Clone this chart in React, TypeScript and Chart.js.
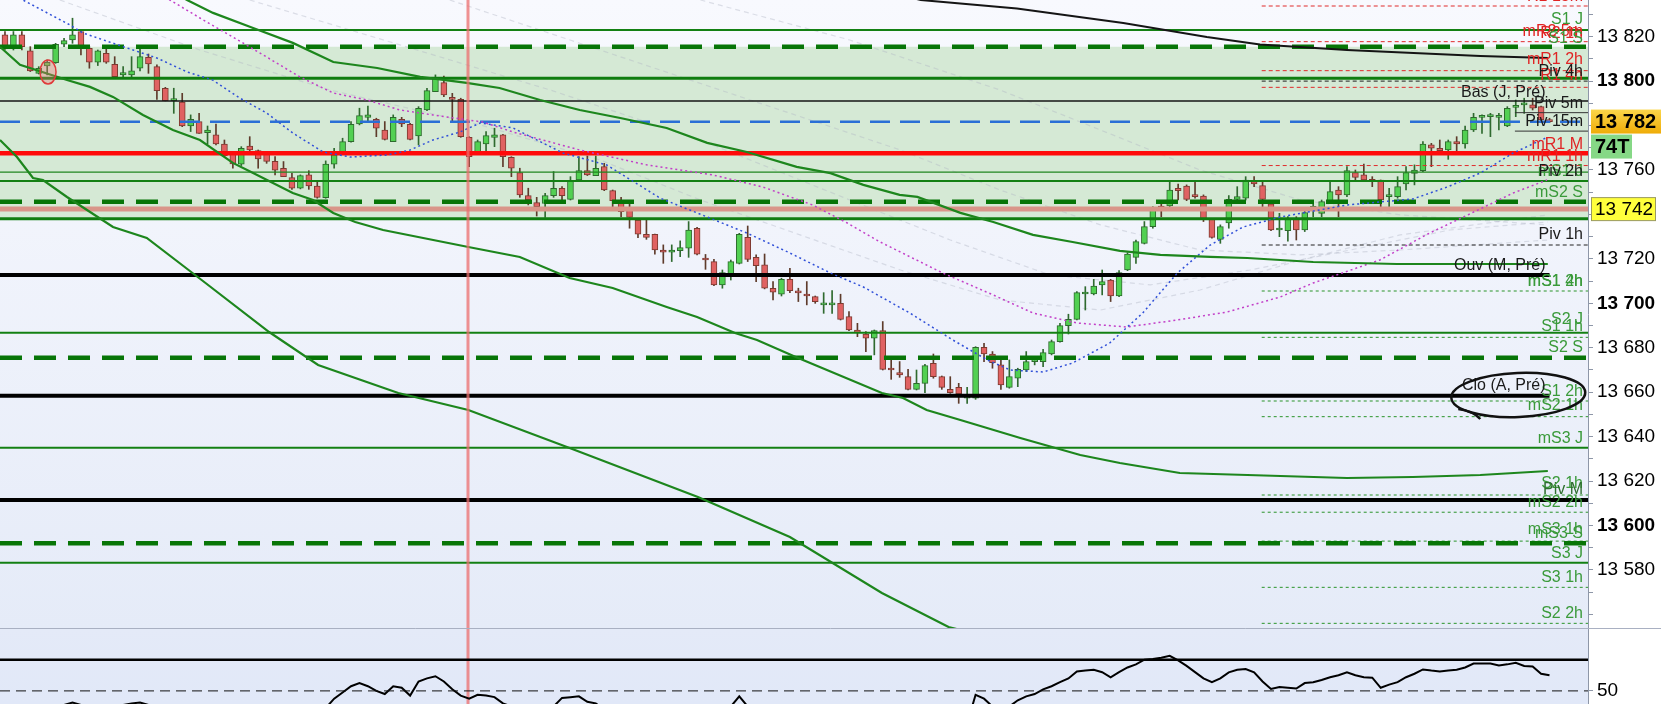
import React, { useEffect, useRef } from 'react';
import Chart from 'chart.js/auto';

const FONT = "'Liberation Sans', Arial, sans-serif";

// visible windows (price panel / oscillator panel / bar index)
const PRICE_MIN = 13553.9;
const PRICE_MAX = 13836.5;
const OSC_MIN = 41.6;
const OSC_MAX = 90.3;
const X_MIN = -0.59;
const X_MAX = 187.56;
const PIVOT_START = 148.9; // bar where the short pivot lines begin
const SHORT_START = 178.9;
const MARKER_BAR = 54.86; // red vertical marker

const priceTicks = [13560, 13570, 13580, 13590, 13600, 13610, 13620, 13630, 13640, 13650, 13660, 13670, 13680, 13690,
  13700, 13710, 13720, 13730, 13740, 13750, 13760, 13770, 13780, 13790, 13800, 13810, 13820, 13830];
const labeledTicks = [13580, 13600, 13620, 13640, 13660, 13680, 13700, 13720, 13760, 13800, 13820];
const boldTicks = [13600, 13700, 13800];
const oscTicks = [50];

// candles
const opens = [
  13820.8, 13814.8, 13820.8, 13813.6, 13803.5, 13806.8, 13808.3, 13816.6, 13818.5, 13822.3,
  13814.8, 13808.5, 13812.5, 13807.6, 13802.8, 13802.8, 13805.8, 13810.7, 13806.5, 13796.8,
  13791.2, 13790.6, 13779.8, 13781.8, 13776.8, 13775.8, 13771.7, 13767.1, 13762.6, 13770.8,
  13768.7, 13767.5, 13763.9, 13760.8, 13756.6, 13751.8, 13757.8, 13752.8, 13747.6, 13762.6,
  13767.5, 13772.8, 13780.7, 13783.7, 13782.8, 13778.0, 13772.8, 13782.8, 13780.6, 13775.3,
  13787.0, 13795.3, 13799.3, 13792.7, 13791.8, 13774.7, 13768.3, 13771.7, 13774.7, 13775.8,
  13765.7, 13758.8, 13748.5, 13745.3, 13745.0, 13748.5, 13751.8, 13746.8, 13755.5, 13759.7,
  13757.5, 13761.5, 13750.7, 13745.8, 13742.0, 13737.5, 13731.1, 13731.1, 13724.0, 13723.0,
  13723.7, 13724.8, 13733.8, 13719.8, 13718.8, 13708.3, 13713.2, 13718.0, 13729.7, 13720.7,
  13717.3, 13706.8, 13704.1, 13710.8, 13705.0, 13704.2, 13703.0, 13699.3, 13699.3, 13700.0,
  13694.0, 13688.0, 13686.2, 13684.3, 13687.7, 13670.3, 13668.8, 13667.0, 13661.3, 13664.0,
  13673.0, 13667.0, 13661.3, 13662.2, 13657.3, 13657.3, 13680.2, 13677.2, 13672.3, 13662.2,
  13666.3, 13670.0, 13673.8, 13673.8, 13677.2, 13682.8, 13690.0, 13692.8, 13704.2, 13704.2,
  13708.3, 13710.5, 13703.3, 13715.0, 13720.7, 13727.0, 13734.5, 13743.8, 13743.8, 13751.8,
  13752.8, 13748.8, 13748.3, 13738.0, 13728.8, 13736.2, 13746.8, 13747.3, 13754.8, 13753.0,
  13744.8, 13733.0, 13732.7, 13738.3, 13733.0, 13742.8, 13740.5, 13745.8, 13751.0, 13748.8,
  13758.8, 13757.8, 13755.8, 13755.5, 13748.0, 13748.0, 13753.7, 13758.5, 13759.7, 13771.3,
  13769.8, 13769.0, 13772.8, 13771.7, 13778.0, 13783.7, 13784.0, 13783.7, 13779.8, 13788.2,
  13789.3, 13789.3, 13788.5, 13782.5,
];
const highs = [
  13822.3, 13822.3, 13822.3, 13815.5, 13806.5, 13809.5, 13817.0, 13819.3, 13828.3, 13823.0,
  13815.5, 13814.0, 13814.3, 13811.0, 13806.5, 13811.0, 13814.3, 13812.2, 13807.3, 13797.2,
  13796.8, 13794.5, 13784.8, 13785.5, 13779.8, 13780.7, 13773.5, 13768.3, 13770.5, 13775.0,
  13769.0, 13767.8, 13766.0, 13763.8, 13758.5, 13757.8, 13759.7, 13754.8, 13764.1, 13769.8,
  13774.3, 13781.8, 13787.8, 13788.8, 13783.3, 13781.8, 13784.8, 13783.7, 13781.0, 13788.5,
  13796.8, 13802.8, 13802.3, 13794.5, 13792.3, 13775.0, 13773.5, 13777.3, 13778.8, 13776.0,
  13766.0, 13760.8, 13751.8, 13747.7, 13749.5, 13759.3, 13752.5, 13757.0, 13766.0, 13766.3,
  13766.3, 13763.0, 13751.0, 13747.7, 13744.7, 13738.3, 13737.5, 13731.2, 13726.3, 13726.3,
  13728.1, 13736.8, 13734.2, 13722.0, 13719.8, 13715.0, 13719.5, 13731.5, 13734.8, 13721.8,
  13722.2, 13709.8, 13711.3, 13715.8, 13706.8, 13709.8, 13703.3, 13704.8, 13705.7, 13704.1,
  13696.3, 13691.0, 13687.3, 13688.0, 13691.8, 13675.3, 13673.8, 13670.3, 13670.0, 13672.6,
  13677.2, 13667.3, 13667.0, 13664.0, 13662.2, 13680.5, 13682.0, 13678.3, 13676.0, 13674.5,
  13670.8, 13678.3, 13676.0, 13679.3, 13683.5, 13691.0, 13695.1, 13705.3, 13707.5, 13710.8,
  13715.0, 13710.8, 13714.7, 13722.8, 13728.5, 13736.8, 13743.5, 13745.0, 13754.8, 13753.7,
  13753.3, 13754.8, 13748.8, 13738.3, 13735.3, 13748.5, 13752.5, 13757.0, 13757.0, 13754.8,
  13745.8, 13740.5, 13739.0, 13739.0, 13742.8, 13745.8, 13746.5, 13754.8, 13752.5, 13761.5,
  13760.0, 13762.7, 13757.0, 13755.5, 13751.8, 13757.0, 13761.5, 13762.3, 13772.8, 13772.0,
  13773.5, 13773.5, 13775.0, 13779.8, 13785.5, 13784.8, 13785.5, 13785.5, 13788.5, 13791.5,
  13792.3, 13792.3, 13788.8, 13783.3,
];
const lows = [
  13814.3, 13814.0, 13814.0, 13804.3, 13803.2, 13802.8, 13808.0, 13815.5, 13817.0, 13811.8,
  13805.8, 13807.0, 13808.0, 13801.3, 13801.3, 13801.3, 13804.6, 13803.5, 13791.8, 13791.1,
  13785.5, 13779.5, 13777.3, 13776.5, 13771.7, 13771.3, 13766.0, 13760.8, 13762.0, 13768.7,
  13760.8, 13763.0, 13757.8, 13757.0, 13751.3, 13751.5, 13751.3, 13747.3, 13747.3, 13760.8,
  13767.2, 13772.5, 13780.3, 13781.8, 13775.0, 13773.5, 13772.8, 13779.5, 13773.5, 13771.3,
  13786.7, 13795.3, 13793.0, 13781.8, 13774.7, 13761.5, 13768.0, 13768.6, 13770.5, 13761.5,
  13757.0, 13747.7, 13744.3, 13739.3, 13738.7, 13747.7, 13746.5, 13746.5, 13755.2, 13757.5,
  13757.5, 13750.7, 13742.0, 13739.0, 13733.8, 13729.6, 13728.8, 13722.1, 13718.0, 13718.8,
  13721.0, 13720.7, 13721.8, 13715.3, 13708.0, 13706.8, 13710.5, 13717.7, 13718.8, 13709.8,
  13706.5, 13701.5, 13703.3, 13704.8, 13700.8, 13699.3, 13700.0, 13695.5, 13695.5, 13692.5,
  13687.7, 13685.0, 13678.3, 13676.8, 13670.0, 13665.8, 13666.7, 13661.0, 13661.0, 13659.8,
  13666.3, 13661.3, 13659.5, 13655.0, 13655.0, 13656.8, 13673.8, 13670.8, 13661.3, 13661.8,
  13662.5, 13669.3, 13672.3, 13671.5, 13676.8, 13682.5, 13686.2, 13692.5, 13697.0, 13703.8,
  13703.8, 13700.8, 13703.0, 13714.7, 13718.0, 13726.7, 13733.8, 13739.0, 13741.7, 13746.5,
  13746.2, 13747.3, 13736.8, 13729.3, 13727.0, 13733.8, 13745.8, 13746.5, 13752.5, 13743.5,
  13732.7, 13730.0, 13728.0, 13728.5, 13732.3, 13739.0, 13739.0, 13745.0, 13739.0, 13748.0,
  13755.5, 13754.8, 13752.5, 13742.0, 13741.7, 13747.3, 13751.0, 13753.3, 13759.3, 13761.5,
  13768.3, 13764.8, 13768.3, 13769.8, 13777.3, 13776.5, 13775.0, 13778.0, 13779.5, 13784.0,
  13785.5, 13787.0, 13781.8, 13781.3,
];
const closes = [
  13814.8, 13820.8, 13815.5, 13804.6, 13805.8, 13808.5, 13816.6, 13818.2, 13820.8, 13814.8,
  13808.5, 13813.6, 13808.5, 13802.0, 13803.8, 13804.6, 13811.0, 13807.7, 13795.7, 13791.2,
  13792.1, 13779.8, 13782.8, 13776.5, 13778.0, 13771.7, 13766.3, 13762.7, 13769.8, 13769.0,
  13765.0, 13763.9, 13759.9, 13757.0, 13751.8, 13757.5, 13752.8, 13747.7, 13762.7, 13766.8,
  13772.8, 13780.6, 13784.5, 13784.8, 13778.8, 13773.8, 13783.7, 13780.7, 13773.8, 13787.8,
  13795.7, 13801.7, 13793.8, 13791.8, 13775.0, 13766.0, 13772.8, 13775.5, 13775.8, 13766.0,
  13760.8, 13748.8, 13746.5, 13743.5, 13748.5, 13751.8, 13748.5, 13755.2, 13759.7, 13757.8,
  13760.8, 13751.0, 13746.2, 13741.3, 13738.7, 13731.1, 13729.7, 13724.0, 13723.0, 13724.0,
  13725.1, 13733.0, 13722.1, 13719.5, 13708.3, 13713.8, 13718.8, 13731.1, 13719.8, 13717.0,
  13706.8, 13705.0, 13710.8, 13705.7, 13704.7, 13703.3, 13700.8, 13700.0, 13700.0, 13692.8,
  13688.0, 13686.8, 13684.3, 13687.7, 13670.3, 13670.0, 13667.8, 13661.3, 13664.0, 13672.0,
  13667.0, 13662.2, 13659.8, 13659.2, 13658.0, 13680.2, 13677.2, 13673.3, 13663.3, 13667.0,
  13670.3, 13673.8, 13674.5, 13677.8, 13682.8, 13690.0, 13692.8, 13704.8, 13705.0, 13707.8,
  13709.8, 13703.3, 13713.8, 13722.2, 13727.8, 13734.5, 13742.8, 13742.8, 13751.0, 13750.7,
  13746.8, 13748.0, 13738.0, 13729.7, 13734.5, 13746.8, 13748.0, 13755.5, 13753.7, 13746.8,
  13733.0, 13733.8, 13738.3, 13733.0, 13740.8, 13743.5, 13745.8, 13750.3, 13748.8, 13759.7,
  13756.7, 13755.5, 13754.8, 13746.5, 13748.3, 13752.5, 13758.8, 13760.0, 13771.7, 13769.8,
  13768.7, 13772.8, 13771.7, 13778.0, 13783.7, 13784.0, 13784.3, 13784.0, 13787.8, 13788.5,
  13789.6, 13787.8, 13782.5, 13781.8,
];

// lower panel oscillator, one value per bar
const oscillator = [
  35, 36, 37, 36, 38, 39, 40, 41, 42.5, 41,
  39, 38, 39, 40, 41, 42, 42.5, 41, 38, 36,
  35, 33, 34, 33, 34, 33, 32, 31, 33, 33,
  32, 32, 31, 31, 30, 32, 31, 30, 39, 45,
  49, 53, 55, 53, 50, 48, 53, 52, 47, 56,
  58, 59.4, 56, 51, 47, 45, 47.5, 47, 46, 42,
  40, 37, 36, 35, 37, 40, 45.5, 46, 46.5, 43,
  42, 38, 35, 33, 31, 29, 29, 27, 28, 29,
  30, 36, 34, 34, 32, 36, 40, 46.5, 40, 38,
  35, 34, 37, 35, 34, 34, 33, 34, 34, 31,
  29, 29, 29, 31, 28, 28, 28, 27, 29, 32,
  30, 28, 28, 27, 29, 47.5, 45, 40, 37, 40,
  44, 46.5, 48, 51, 53, 55.6, 58, 62.5, 63, 63.5,
  62, 58.75, 62, 65, 67, 70, 70.5, 71.25, 72.5, 69.5,
  66, 62, 58, 55.6, 58, 61.9, 63.5, 64, 61.9, 56,
  51.25, 52.5, 52, 51.5, 55, 55.5, 57, 58.75, 60, 61.9,
  60, 58.75, 58.5, 52, 54, 55.6, 58.75, 61, 63.75, 63,
  62.5, 63, 63.5, 65, 67.5, 67.5, 67.5, 66.25, 67, 68,
  66, 65.6, 61, 60,
];
const oscUpper = 70;
const oscMid = 50;

// moving averages etc. as [bar, price]
const blackAverage = [[103.7, 13841], [108.5, 13836.5], [119.9, 13832.7], [132.5, 13826.2], [142.4, 13819.9],
  [148.7, 13816.5], [159.0, 13814], [174.8, 13811.3], [182.8, 13810.4]];
const greenUpper = [[19.55, 13841], [21.57, 13836.5], [24.65, 13830.7], [29.4, 13823.9], [34.1, 13817.2], [38.9, 13808.6],
  [44.1, 13805.9], [49.2, 13801.9], [54.7, 13799.2], [58.6, 13796.9], [63.4, 13791.5], [68.1, 13787], [72.9, 13783.4],
  [78.4, 13778.9], [83.2, 13772.2], [87.9, 13768.1], [93.8, 13761.4], [97.8, 13758.6], [101.7, 13753.3], [106.0, 13748.8],
  [108.1, 13747.9], [113.2, 13740.7], [117.1, 13736.6], [121.8, 13730.8], [126.5, 13727.6], [132.1, 13723.6],
  [136.9, 13721.8], [142.8, 13720.9], [147.2, 13720.4], [155.0, 13718.6], [164.9, 13717.7], [182.8, 13717.7]];
const greenMiddle = [[-0.59, 13815.4], [1.78, 13807.3], [7.35, 13800.5], [10.07, 13797.4], [12.8, 13792.9], [16.35, 13784.75],
  [19.9, 13778], [23.1, 13773.5], [27.0, 13763.2], [29.4, 13758.65], [34.1, 13749.65], [36.5, 13746.5], [38.9, 13740.65],
  [41.5, 13736.6], [44.8, 13733], [54.9, 13725.35], [61.0, 13720.85], [66.9, 13711.4], [72.0, 13706.9], [78.4, 13698.35],
  [82.0, 13693.85], [86.5, 13686.65], [89.1, 13683.5], [93.7, 13675.85], [103.9, 13659.65], [106.4, 13657.4],
  [109.2, 13652], [113.2, 13647.5], [120.3, 13639.4], [127.4, 13631.75], [132.1, 13628.15], [139.2, 13623.65],
  [147.2, 13622.75], [159.0, 13621.4], [166.8, 13621.85], [174.8, 13622.75], [182.8, 13624.55]];
const greenLower = [[-0.59, 13773.5], [1.42, 13765.85], [3.32, 13756.4], [4.5, 13755.5], [7.35, 13747.85], [9.72, 13742],
  [12.8, 13734.35], [16.8, 13729.4], [23.3, 13710.5], [31.3, 13687.1], [37.1, 13672.25], [46.6, 13659.65], [54.9, 13652],
  [66.9, 13634.9], [82.1, 13612.85], [93.0, 13594.85], [103.9, 13569.65], [111.8, 13554.35], [113.2, 13553]];
const blueDotted = [[1.19, 13838.75], [2.13, 13836.5], [7.7, 13825.25], [9.24, 13821.65], [15.17, 13814], [18.0, 13810.4],
  [21.6, 13804.1], [24.6, 13800.5], [27.8, 13792.4], [31.0, 13785.65], [34.1, 13776.65], [37.7, 13768.1], [40.9, 13765.85],
  [45.3, 13766.75], [48.0, 13769], [50.7, 13773.5], [53.9, 13777.1], [56.3, 13781.15], [60.2, 13778.9], [66.1, 13767.65],
  [71.3, 13762.25], [77.6, 13747.4], [83.2, 13738.85], [87.9, 13731.65], [93.0, 13722.65], [97.8, 13713.65],
  [101.7, 13707.35], [107.2, 13695.65], [112.3, 13683.5], [116.4, 13674.5], [119.1, 13670], [123.0, 13669.1],
  [126.5, 13673.15], [130.9, 13682.15], [134.8, 13695.65], [138.9, 13713.65], [142.8, 13726.25], [146.7, 13734.35],
  [151.1, 13738.85], [159.0, 13744.25], [166.8, 13746.95], [170.9, 13752.35], [174.8, 13758.65], [178.7, 13767.65],
  [182.8, 13774.85]];
const magentaDotted = [[18.4, 13838.75], [19.55, 13836.5], [23.1, 13828.4], [27.0, 13819.85], [31.0, 13810.85],
  [34.95, 13801.85], [38.9, 13794.65], [42.9, 13791.5], [46.8, 13787], [50.7, 13784.75], [56.6, 13781.6], [60.2, 13777.1],
  [68.1, 13769], [76.1, 13762.25], [83.9, 13757.75], [89.8, 13752.35], [95.7, 13744.25], [99.8, 13736.15], [103.7, 13727.6],
  [111.1, 13713.65], [117.1, 13703.75], [121.8, 13695.65], [127.0, 13691.15], [132.9, 13689.35], [138.9, 13692.5],
  [144.8, 13696.1], [151.1, 13702.85], [155.0, 13709.15], [162.9, 13719.5], [168.8, 13731.65], [172.8, 13738.85],
  [178.7, 13749.65], [182.7, 13755.5]];
const grayFans = [
  [[6.5, 13836.5], [23.1, 13814], [38.5, 13796], [56.3, 13780.3], [70.5, 13764.5], [82.4, 13746.5], [94.2, 13730.8],
    [106.1, 13715], [117.9, 13701.5], [129.8, 13697], [141.6, 13706], [153.5, 13719.5], [165.3, 13730.8], [182.8, 13739.8]],
  [[29.0, 13836.5], [46.8, 13816.3], [64.6, 13796], [82.4, 13773.5], [100.1, 13746.5], [112.0, 13728.5], [123.8, 13712.8],
    [135.7, 13708.3], [147.5, 13715], [159.4, 13724], [171.2, 13733], [182.8, 13736.6]],
  [[52.7, 13836.5], [70.5, 13814], [88.3, 13791.5], [106.1, 13769], [117.9, 13751], [129.8, 13735.3], [141.6, 13724],
    [153.5, 13721.8], [165.3, 13724], [182.8, 13728.5]],
  [[82.4, 13836.5], [100.1, 13818.5], [117.9, 13796], [129.8, 13778], [141.6, 13760], [153.5, 13746.5], [165.3, 13739.8],
    [182.8, 13735.3]],
];

// horizontal levels: [price, style]
const fullLevels = [[13823.0, 'green'], [13815.5, 'greenDash'], [13801.25, 'greenBold'], [13791.05, 'black'],
  [13781.75, 'blueDash'], [13767.5, 'red'], [13759.0, 'greenThin'], [13755.0, 'green'], [13745.75, 'greenDash'],
  [13742.4, 'salmon'], [13738.1, 'greenBold'], [13686.8, 'green'], [13675.5, 'greenDash'], [13635.0, 'green'],
  [13611.5, 'blackBold'], [13592.0, 'greenDash'], [13583.3, 'green']];
const lastBarLevels = [[13712.75, 'blackBold'], [13658.4, 'blackBold']];
const pivotLevels = [[13833.8, 'pivRed'], [13817.75, 'pivRed'], [13804.7, 'pivRed'], [13800.0, 'pivBlack'],
  [13797.2, 'pivRed'], [13762.0, 'pivRed'], [13726.25, 'pivBlack'], [13705.55, 'pivGreen'], [13684.7, 'pivGreen'],
  [13656.05, 'pivGreen'], [13649.0, 'pivGreen'], [13613.75, 'pivGreen'], [13606.0, 'pivGreen'], [13593.0, 'pivGreen'],
  [13572.2, 'pivGreen'], [13556.0, 'pivGreen']];
const shortLevels = [[13785.8, 'thinBlack'], [13777.5, 'thinBlack']];
const zones = [[13815.5, 13738.1, 'light'], [13801.25, 13791.05, 'dark'], [13755.0, 13738.1, 'dark']];
const tagLevel = 13742.4;

const pivotLabels = [
  ['R1 15m', 13838.0, 'red'], ['S1 J', 13827.5, 'green'], ['mR2 5m', 13822.3, 'red'], ['R2 1h', 13821.4, 'red'],
  ['S1 S', 13819.3, 'green'], ['mR1 2h', 13809.5, 'red'], ['R1 4h', 13802.6, 'red'], ['Piv 4h', 13804.2, 'black'],
  ['Piv 5m', 13790.0, 'black'], ['Piv 15m', 13781.8, 'black'], ['mR1 M', 13771.3, 'red'], ['mR1 1h', 13766.0, 'red'],
  ['mS1 J', 13759.3, 'green'], ['Piv 2h', 13759.3, 'black'], ['mS2 S', 13749.8, 'green'], ['Piv 1h', 13730.8, 'black'],
  ['mS1 2h', 13709.8, 'green'], ['mS1 4h', 13709.8, 'green'], ['S2 J', 13692.5, 'green'], ['S1 1h', 13689.5, 'green'],
  ['S2 S', 13680.2, 'green'], ['S1 2h', 13660.2, 'green'], ['mS2 1h', 13653.8, 'green'], ['mS3 J', 13639.3, 'green'],
  ['S2 1h', 13619.0, 'green'], ['Piv M', 13616.0, 'darkgreen'], ['mS2 2h', 13610.3, 'green'], ['mS3 1h', 13598.0, 'green'],
  ['mS3 S', 13596.5, 'green'], ['S3 J', 13587.2, 'green'], ['S3 1h', 13576.7, 'green'], ['S2 2h', 13560.5, 'green'],
];
const lastBarLabels = [['Bas (J, Pré)', 13794.8], ['Ouv (M, Pré)', 13716.8], ['Clo (A, Pré)', 13662.8]];
const counterText = '74T';

const LINE_STYLES: Record<string, { color: string; width: number; dash: number[] }> = {
  greenThin: { color: '#1f861f', width: 1.2, dash: [] },
  green: { color: '#138013', width: 2, dash: [] },
  greenBold: { color: '#0f7d0f', width: 3, dash: [] },
  greenDash: { color: '#077507', width: 4.5, dash: [22, 12] },
  black: { color: '#151515', width: 1.5, dash: [] },
  blackBold: { color: '#000000', width: 4, dash: [] },
  blueDash: { color: '#2a6fd6', width: 2.5, dash: [20, 10] },
  red: { color: '#ff0a0a', width: 4.5, dash: [] },
  salmon: { color: '#d99589', width: 5, dash: [] },
  pivRed: { color: '#e02a2a', width: 1, dash: [4, 3] },
  pivBlack: { color: '#222222', width: 1, dash: [4, 3] },
  pivGreen: { color: '#2a942a', width: 1, dash: [3, 3] },
  thinBlack: { color: '#333333', width: 1, dash: [] },
};
const TEXT_COLORS: Record<string, string> = {
  red: '#e02424', green: '#3a9a3a', black: '#1a1a1a', darkgreen: '#2e6e2e',
};
const ZONE_COLORS: Record<string, string> = { light: '#d5e9d5', dark: 'rgba(20,110,20,0.09)' };

const fmtPrice = (v: number) => `${Math.floor(v / 1000)} ${String(Math.round(v % 1000)).padStart(3, '0')}`;

const hline = (price: number, from: number, to: number, style: string, order = 30) => {
  const s = LINE_STYLES[style];
  return {
    type: 'line', data: [{ x: from, y: price }, { x: to, y: price }], borderColor: s.color, borderWidth: s.width,
    borderDash: s.dash, pointRadius: 0, fill: false, order,
  };
};
const curve = (pts: number[][], color: string, width: number, dash: number[], order: number) => ({
  type: 'line', data: pts.map(([x, y]) => ({ x, y })), borderColor: color, borderWidth: width, borderDash: dash,
  pointRadius: 0, fill: false, tension: 0, order,
});

const panelBackground = (top: string, bottom: string) => ({
  id: 'panelBackground',
  beforeDraw(chart: any) {
    const { ctx, chartArea: a } = chart;
    const g = ctx.createLinearGradient(0, a.top, 0, a.bottom);
    g.addColorStop(0, top);
    g.addColorStop(1, bottom);
    ctx.save();
    ctx.fillStyle = g;
    ctx.fillRect(a.left, a.top, a.width, a.height);
    ctx.restore();
  },
});

const mainOverlay = {
  id: 'mainOverlay',
  afterDatasetsDraw(chart: any) {
    const { ctx, chartArea: a, scales } = chart;
    const x = scales.x;
    const y = scales.y;
    ctx.save();
    ctx.beginPath();
    ctx.rect(a.left, a.top, a.width, a.height);
    ctx.clip();
    ctx.font = `16px ${FONT}`;
    ctx.textAlign = 'right';
    ctx.textBaseline = 'middle';
    for (const [text, price, tone] of pivotLabels as [string, number, string][]) {
      ctx.fillStyle = TEXT_COLORS[tone];
      ctx.fillText(text, a.right - 5, y.getPixelForValue(price));
    }
    const lastX = x.getPixelForValue(opens.length - 1);
    ctx.fillStyle = TEXT_COLORS.black;
    for (const [text, price] of lastBarLabels as [string, number][]) {
      ctx.fillText(text, lastX - 4, y.getPixelForValue(price));
    }
    // small highlighted circle on an early bar
    ctx.beginPath();
    ctx.ellipse(x.getPixelForValue(5.1), y.getPixelForValue(13804.1), 8, 12, 0, 0, Math.PI * 2);
    ctx.fillStyle = 'rgba(240,120,120,0.35)';
    ctx.fill();
    ctx.strokeStyle = '#e03a3a';
    ctx.lineWidth = 1.5;
    ctx.stroke();
    ctx.restore();
  },
  afterDraw(chart: any) {
    const { ctx, chartArea: a, scales } = chart;
    const x = scales.x;
    const y = scales.y;
    // hand-drawn ring around "Clo (A, Pré)"
    ctx.save();
    const cx = x.getPixelForValue(179.3);
    const cy = y.getPixelForValue(13658.75);
    ctx.beginPath();
    ctx.ellipse(cx, cy, 67, 22, -0.04, 0, Math.PI * 2);
    ctx.strokeStyle = '#111';
    ctx.lineWidth = 2.5;
    ctx.stroke();
    ctx.beginPath();
    ctx.moveTo(cx - 60, cy + 14);
    ctx.quadraticCurveTo(cx - 45, cy + 16, cx - 38, cy + 24);
    ctx.stroke();

    const left = a.right + 3;
    const w = chart.width - left;
    const tag = (cyy: number, h: number, width: number, fill: any, text: string, bold: boolean, size: number) => {
      ctx.fillStyle = fill;
      ctx.fillRect(left, cyy - h / 2, width, h);
      ctx.fillStyle = '#000';
      ctx.font = `${bold ? 'bold ' : ''}${size}px ${FONT}`;
      ctx.textAlign = 'left';
      ctx.textBaseline = 'middle';
      ctx.fillText(text, left + 4, cyy + 1);
    };
    const lastY = y.getPixelForValue(closes[closes.length - 1]);
    const gold = ctx.createLinearGradient(0, lastY - 12, 0, lastY + 12);
    gold.addColorStop(0, '#fbd64a');
    gold.addColorStop(1, '#efac08');
    tag(lastY, 24, w, gold, fmtPrice(closes[closes.length - 1]), true, 20);
    tag(lastY + 25, 24, 41, '#86d886', counterText, true, 20);
    const tY = y.getPixelForValue(tagLevel);
    tag(tY, 23, w - 5, '#ffff3c', fmtPrice(tagLevel), false, 19);
    ctx.strokeStyle = '#9a9a60';
    ctx.lineWidth = 1;
    ctx.strokeRect(left + 0.5, tY - 11.5, w - 6, 23);
    ctx.restore();
  },
};

const oscOverlay = {
  id: 'oscOverlay',
  afterDraw(chart: any) {
    const { ctx } = chart;
    ctx.save();
    ctx.strokeStyle = '#a9b0c2';
    ctx.lineWidth = 1;
    ctx.beginPath();
    ctx.moveTo(0, 0.5);
    ctx.lineTo(chart.width, 0.5);
    ctx.stroke();
    ctx.restore();
  },
};

const yAxisBase = {
  position: 'right',
  afterFit: (s: any) => {
    s.width = 73;
    s.paddingTop = 0;
    s.paddingBottom = 0;
  },
  grid: { drawOnChartArea: false, drawTicks: true, tickLength: 5, color: '#8e97a8' },
  border: { display: true, color: '#8e97a8' },
};

const App: React.FC = () => {
  const mainRef = useRef<HTMLCanvasElement | null>(null);
  const oscRef = useRef<HTMLCanvasElement | null>(null);

  useEffect(() => {
    document.body.style.margin = '0';
    if (!mainRef.current || !oscRef.current) return;

    const idx = opens.map((_, i) => i);
    const up = (i: number) => closes[i] >= opens[i];

    const datasets: any[] = [];
    for (const [top, bottom, tone] of zones as [number, number, string][]) {
      datasets.push({
        type: 'line', data: [{ x: X_MIN, y: top }, { x: X_MAX, y: top }], borderWidth: 0, pointRadius: 0,
        fill: { value: bottom }, backgroundColor: ZONE_COLORS[tone], order: 100,
      });
    }
    for (const g of grayFans) datasets.push(curve(g, 'rgba(175,180,195,0.4)', 1.2, [5, 4], 90));
    datasets.push({
      type: 'bar', data: idx.map((i) => ({ x: i, y: [lows[i], highs[i]] })),
      backgroundColor: idx.map((i) => (up(i) ? '#2f6a2f' : '#5e3b2b')), barThickness: 1, grouped: false, order: 50,
    });
    datasets.push({
      type: 'bar', data: idx.map((i) => ({ x: i, y: [opens[i], closes[i]] })),
      backgroundColor: idx.map((i) => (up(i) ? '#52d052' : '#e06262')),
      borderColor: idx.map((i) => (up(i) ? '#2d6a2d' : '#7d3a30')),
      borderWidth: 1, borderSkipped: false, barThickness: 6, minBarLength: 2, grouped: false, order: 40,
    });
    for (const [p, s] of fullLevels as [number, string][]) datasets.push(hline(p, X_MIN, X_MAX, s));
    for (const [p, s] of lastBarLevels as [number, string][]) datasets.push(hline(p, X_MIN, opens.length - 1, s));
    for (const [p, s] of pivotLevels as [number, string][]) datasets.push(hline(p, PIVOT_START, X_MAX, s, 35));
    for (const [p, s] of shortLevels as [number, string][]) datasets.push(hline(p, SHORT_START, X_MAX, s, 35));
    datasets.push(curve(blackAverage, '#151515', 2, [], 20));
    datasets.push(curve(greenUpper, '#1d861d', 2.2, [], 20));
    datasets.push(curve(greenMiddle, '#1d861d', 2.2, [], 20));
    datasets.push(curve(greenLower, '#1d861d', 2.2, [], 20));
    datasets.push(curve(blueDotted, '#3050d8', 1.5, [2, 3], 20));
    datasets.push(curve(magentaDotted, '#c23fc8', 1.5, [2, 3], 20));
    datasets.push(curve([[MARKER_BAR, PRICE_MIN - 5], [MARKER_BAR, PRICE_MAX + 5]], 'rgba(236,110,110,0.75)', 3, [], 10));

    const main = new Chart(mainRef.current, {
      type: 'bar',
      data: { datasets },
      options: {
        animation: false,
        responsive: false,
        events: [],
        layout: { padding: 0 },
        plugins: { legend: { display: false }, tooltip: { enabled: false } },
        scales: {
          x: { type: 'linear', min: X_MIN, max: X_MAX, display: false, offset: false },
          y: {
            ...yAxisBase,
            min: PRICE_MIN,
            max: PRICE_MAX,
            afterBuildTicks: (s: any) => {
              s.ticks = priceTicks.map((v) => ({ value: v }));
            },
            ticks: {
              autoSkip: false,
              padding: 4,
              color: '#000',
              font: (c: any) => ({ family: FONT, size: 19, weight: boldTicks.includes(c.tick?.value) ? 'bold' : 'normal' }),
              callback: (v: any) => (labeledTicks.includes(v) ? fmtPrice(v) : ''),
            },
          },
        },
      },
      plugins: [panelBackground('#f8f9fe', '#e5ebf8'), mainOverlay],
    } as any);

    const osc = new Chart(oscRef.current, {
      type: 'line',
      data: {
        datasets: [
          { data: [{ x: X_MIN, y: oscUpper }, { x: X_MAX, y: oscUpper }], borderColor: '#000', borderWidth: 2.5, pointRadius: 0 },
          { data: [{ x: X_MIN, y: oscMid }, { x: X_MAX, y: oscMid }], borderColor: '#111', borderWidth: 1, borderDash: [10, 6], pointRadius: 0 },
          { data: oscillator.map((v, i) => ({ x: i, y: v })), borderColor: '#000', borderWidth: 2, pointRadius: 0, tension: 0 },
          { data: [{ x: MARKER_BAR, y: OSC_MIN - 5 }, { x: MARKER_BAR, y: OSC_MAX + 5 }], borderColor: 'rgba(236,110,110,0.75)', borderWidth: 3, pointRadius: 0 },
        ],
      },
      options: {
        animation: false,
        responsive: false,
        events: [],
        layout: { padding: 0 },
        plugins: { legend: { display: false }, tooltip: { enabled: false } },
        scales: {
          x: { type: 'linear', min: X_MIN, max: X_MAX, display: false },
          y: {
            ...yAxisBase,
            min: OSC_MIN,
            max: OSC_MAX,
            afterBuildTicks: (s: any) => {
              s.ticks = oscTicks.map((v) => ({ value: v }));
            },
            ticks: { autoSkip: false, padding: 4, color: '#000', font: { family: FONT, size: 19 } },
          },
        },
      },
      plugins: [panelBackground('#e4eaf8', '#e1e8f8'), oscOverlay],
    } as any);

    return () => {
      main.destroy();
      osc.destroy();
    };
  }, []);

  return (
    <div style={{ width: 1661, height: 704, background: '#fff', overflow: 'hidden' }}>
      <canvas ref={mainRef} width={1661} height={628} style={{ display: 'block' }} />
      <canvas ref={oscRef} width={1661} height={76} style={{ display: 'block' }} />
    </div>
  );
};

export default App;
